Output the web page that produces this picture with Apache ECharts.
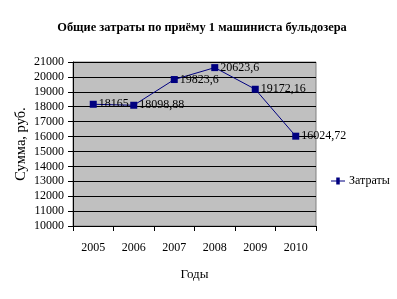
<!DOCTYPE html>
<html><head><meta charset="utf-8">
<script src="https://cdn.jsdelivr.net/npm/echarts@6/dist/echarts.min.js"></script>
<style>html,body{margin:0;padding:0;background:#fff}#c{width:397px;height:299px}</style>
</head><body><div id="c"></div>
<script>
var categories = ['2005','2006','2007','2008','2009','2010'];
var values = [18165, 18098.88, 19823.6, 20623.6, 19172.16, 16024.72];
var yTicks = {min: 10000, max: 21000, interval: 1000};
var FONT = '"Liberation Serif", "Times New Roman", serif';
var chart = echarts.init(document.getElementById('c'));
chart.setOption({
  animation: false,
  backgroundColor: '#fff',
  title: {text: 'Общие затраты по приёму 1 машиниста бульдозера', left: 197, top: 17, textAlign: 'center',
    textStyle: {fontFamily: FONT, fontSize: 12.4, fontWeight: 'bold', color: '#000'}},
  legend: {data: ['Затраты'], left: 326, top: 170, itemWidth: 16, itemHeight: 7, itemGap: 4,
    icon: 'path://M0,3.5H6V0H10V3.5H16V4.5H10V8H6V4.5H0Z',
    textStyle: {fontFamily: FONT, fontSize: 12, color: '#000', padding: [0,0,0,-2]}},
  grid: {left: 73, right: 81, top: 62, bottom: 73, show: true, backgroundColor: '#c0c0c0', borderWidth: 1, borderColor: '#808080'},
  xAxis: {type: 'category', data: categories, boundaryGap: true,
    name: 'Годы', nameLocation: 'middle', nameGap: 42, nameMoveOverlap: false,
    nameTextStyle: {fontFamily: FONT, fontSize: 13, color: '#000'},
    axisLine: {lineStyle: {color: '#000'}},
    axisTick: {show: true, alignWithLabel: false, length: 5, lineStyle: {color: '#000'}},
    axisLabel: {fontFamily: FONT, fontSize: 12, color: '#000', margin: 16}},
  yAxis: {type: 'value', min: yTicks.min, max: yTicks.max, interval: yTicks.interval,
    name: 'Сумма, руб.', nameLocation: 'middle', nameGap: 44, nameRotate: 90, nameMoveOverlap: false,
    nameTextStyle: {fontFamily: FONT, fontSize: 14.5, color: '#000'},
    axisLine: {show: true, lineStyle: {color: '#000'}},
    axisTick: {show: true, length: 5, lineStyle: {color: '#000'}},
    splitLine: {show: true, lineStyle: {color: '#000', width: 1}},
    axisLabel: {fontFamily: FONT, fontSize: 12, color: '#000', margin: 9,
      formatter: function(v){ return String(v); }}},
  series: [{name: 'Затраты', type: 'line', data: values,
    symbol: 'rect', symbolSize: 7,
    lineStyle: {color: '#000080', width: 1},
    itemStyle: {color: '#000080'},
    label: {show: true, position: 'right', distance: 2, fontFamily: FONT, fontSize: 12, color: '#000',
      formatter: function(p){ return String(p.value).replace('.', ','); }}
  }]
});
</script></body></html>
